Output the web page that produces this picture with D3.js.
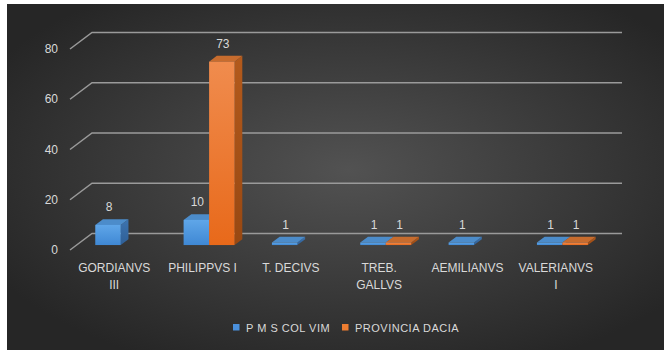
<!DOCTYPE html>
<html>
<head>
<meta charset="utf-8">
<script src="https://cdn.jsdelivr.net/npm/d3@7"></script>
<style>
  html, body { margin: 0; padding: 0; background: #ffffff; }
  svg { display: block; }
  text { font-family: "Liberation Sans", Arial, sans-serif; fill: #d9d9d9; }
</style>
</head>
<body>
<svg id="chart" width="664" height="354"></svg>
<script>
// Coin finds per emperor, by mint
const categories = ["GORDIANVS III", "PHILIPPVS I", "T. DECIVS", "TREB. GALLVS", "AEMILIANVS", "VALERIANVS I"];
const seriesNames = ["P M S COL VIM", "PROVINCIA DACIA"];
const pmsColVim = [8, 10, 1, 1, 1, 1];
const provinciaDacia = [0, 73, 0, 1, 0, 1];
const yTicks = [0, 20, 40, 60, 80];
const categoryLines = [["GORDIANVS", "III"], ["PHILIPPVS I"], ["T. DECIVS"], ["TREB.", "GALLVS"], ["AEMILIANVS"], ["VALERIANVS", "I"]];

const seriesValues = [pmsColVim, provinciaDacia];

const svg = d3.select("#chart");
const defs = svg.append("defs");

// Background panel with soft radial shading
const bg = defs.append("radialGradient").attr("id", "bg")
  .attr("cx", "52%").attr("cy", "48%").attr("r", "62%");
bg.append("stop").attr("offset", "0%").attr("stop-color", "#525252");
bg.append("stop").attr("offset", "100%").attr("stop-color", "#262626");
svg.append("rect").attr("x", 7).attr("y", 4).attr("width", 657).attr("height", 346)
  .attr("fill", "url(#bg)");

// Face shading for each series
const palette = [
  { front: ["#5fa6e8", "#3f88d4"], top: "#4c8cca", side: ["#3d74b0", "#2f5f96"] },
  { front: ["#f08c4e", "#e8691a"], top: "#c76c2e", side: ["#b35a1c", "#984812"] }
];
palette.forEach((p, i) => {
  const gf = defs.append("linearGradient").attr("id", "front" + i).attr("x1", 0).attr("y1", 0).attr("x2", 0).attr("y2", 1);
  gf.append("stop").attr("offset", "0%").attr("stop-color", p.front[0]);
  gf.append("stop").attr("offset", "100%").attr("stop-color", p.front[1]);
  const gs = defs.append("linearGradient").attr("id", "side" + i).attr("x1", 0).attr("y1", 0).attr("x2", 0).attr("y2", 1);
  gs.append("stop").attr("offset", "0%").attr("stop-color", p.side[0]);
  gs.append("stop").attr("offset", "100%").attr("stop-color", p.side[1]);
});

// Front plane scales and the depth vector of the 3-D floor
const x = d3.scaleBand().domain(categories).range([70, 600]);
const y = d3.scaleLinear().domain([0, 80]).range([250, 49]);
const depth = { dx: 22, dy: -16.5 };
const barFront = 0.3, barBack = 0.65;
const inner = d3.scaleBand().domain(seriesNames).range([-25.5, 25.5]);

// Gridlines: short diagonal at the front, long line along the back wall
const grid = svg.append("g").attr("stroke", "#9a9a9a").attr("stroke-width", 1.5).attr("fill", "none");
yTicks.forEach(t => {
  const x0 = x.range()[0], y0 = y(t);
  grid.append("path").attr("d", d3.line()([
    [x0, y0], [x0 + depth.dx, y0 + depth.dy], [x.range()[1] + depth.dx, y0 + depth.dy]
  ]));
});

// Value axis labels
svg.append("g").selectAll("text").data(yTicks).join("text")
  .attr("x", 58).attr("y", d => y(d) + 4)
  .attr("text-anchor", "end").attr("font-size", 12)
  .text(d => d);

// Bars
const bars = svg.append("g");
const labels = svg.append("g");
const fx = barFront * depth.dx, fy = barFront * depth.dy;
const bdx = (barBack - barFront) * depth.dx, bdy = (barBack - barFront) * depth.dy;

categories.forEach((c, ci) => {
  seriesNames.forEach((s, si) => {
    const v = seriesValues[si][ci];
    if (!v) return;
    const left = x(c) + x.bandwidth() / 2 + inner(s) + fx;
    const right = left + inner.bandwidth();
    const bottom = y(0) + fy;
    const top = y(v) + fy;
    const g = bars.append("g");
    // side face
    g.append("path").attr("fill", `url(#side${si})`).attr("d", d3.line()([
      [right, bottom], [right, top], [right + bdx, top + bdy], [right + bdx, bottom + bdy]
    ]) + "Z");
    // top face
    g.append("path").attr("fill", palette[si].top).attr("d", d3.line()([
      [left, top], [right, top], [right + bdx, top + bdy], [left + bdx, top + bdy]
    ]) + "Z");
    // front face
    g.append("rect").attr("x", left).attr("y", top).attr("width", right - left).attr("height", bottom - top)
      .attr("fill", `url(#front${si})`);
    labels.append("text")
      .attr("x", (left + right) / 2 + 1).attr("y", top + bdy - 8)
      .attr("text-anchor", "middle").attr("font-size", 12)
      .text(v);
  });
});

// Category labels
const cat = svg.append("g");
categories.forEach((c, ci) => {
  const t = cat.append("text").attr("text-anchor", "middle").attr("font-size", 12)
    .attr("x", x(c) + x.bandwidth() / 2).attr("y", 272);
  categoryLines[ci].forEach((line, li) => {
    t.append("tspan").attr("x", x(c) + x.bandwidth() / 2).attr("dy", li ? 17 : 0).text(line);
  });
});

// Legend
const legendItems = [{ name: seriesNames[0], x: 233, color: "#4a90dc" }, { name: seriesNames[1], x: 342, color: "#ed7d31" }];
const legend = svg.append("g");
legendItems.forEach(d => {
  legend.append("rect").attr("x", d.x).attr("y", 324).attr("width", 6.5).attr("height", 6.5).attr("fill", d.color);
  legend.append("text").attr("x", d.x + 13).attr("y", 331.5).attr("font-size", 11)
    .attr("letter-spacing", 0.5).text(d.name);
});
</script>
</body>
</html>
